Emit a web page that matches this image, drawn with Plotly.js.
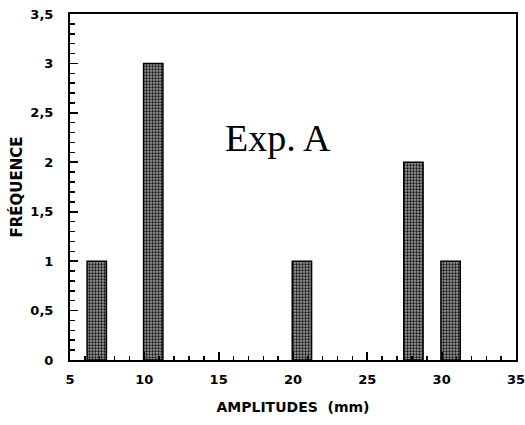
<!DOCTYPE html>
<html>
<head>
<meta charset="utf-8">
<script src="https://cdn.plot.ly/plotly-3.0.1.min.js"></script>
<style>html,body{margin:0;padding:0;background:#fff;}</style>
</head>
<body>
<div id="chart" style="width:525px;height:425px;"></div>
<script>
// Data
const amplitudes = [6.8, 10.6, 20.6, 28.1, 30.6];
const frequences = [1, 3, 1, 2, 1];
const xTickVals = [5, 10, 15, 20, 25, 30, 35];
const yTickVals = [0, 0.5, 1, 1.5, 2, 2.5, 3, 3.5];
const labelText = "Exp. A";

const trace = {
  type: 'bar',
  x: amplitudes,
  y: frequences,
  width: 1.3,
  marker: {
    color: '#777',
    line: {color: '#000', width: 1.5},
    pattern: {shape: '.', fgcolor: '#111', bgcolor: '#9a9a9a', size: 3, solidity: 0.45}
  },
  hoverinfo: 'none'
};

const tickFont = {family: 'DejaVu Sans, sans-serif', size: 13, weight: 'bold', color: '#000'};
const titleFont = {family: 'DejaVu Sans, sans-serif', size: 14, weight: 'bold', color: '#000'};

const layout = {
  width: 525, height: 425,
  margin: {l: 70, r: 9, t: 14, b: 65},
  paper_bgcolor: '#fff', plot_bgcolor: '#fff',
  separators: ', ',
  showlegend: false,
  font: {family: 'DejaVu Sans, sans-serif', color: '#000', size: 12},
  xaxis: {
    range: [5, 35], tickvals: xTickVals, ticks: 'inside', ticklen: 8, tickwidth: 1.8,
    tickcolor: '#000', showgrid: false, zeroline: false,
    showline: true, linecolor: '#000', linewidth: 2, mirror: true,
    minor: {dtick: 1, tick0: 5, ticks: 'inside', ticklen: 4, tickcolor: '#000', tickwidth: 1.5},
    tickfont: tickFont, ticklabelstandoff: 6, ticklabeloverflow: 'allow',
    title: {text: 'AMPLITUDES  (mm)', font: titleFont, standoff: 17}
  },
  yaxis: {
    range: [0, 3.5], tickvals: yTickVals, ticks: 'inside', ticklen: 8, tickwidth: 1.8,
    tickcolor: '#000', showgrid: false, zeroline: false,
    showline: true, linecolor: '#000', linewidth: 2, mirror: true,
    minor: {dtick: 0.1, tick0: 0, ticks: 'inside', ticklen: 5, tickcolor: '#000', tickwidth: 1.5},
    tickfont: tickFont, ticklabelstandoff: 12, ticklabeloverflow: 'allow',
    title: {text: 'FRÉQUENCE', font: {family: 'DejaVu Sans, sans-serif', size: 15, weight: 'bold', color: '#000'}, standoff: 4}
  },
  annotations: [{
    x: 15.3, y: 2.25, xref: 'x', yref: 'y', xanchor: 'left', yanchor: 'middle',
    text: labelText, showarrow: false,
    font: {family: 'Liberation Serif, Times New Roman, serif', size: 38, color: '#000'}
  }]
};

Plotly.newPlot('chart', [trace], layout, {staticPlot: true, displayModeBar: false});
</script>
</body>
</html>
